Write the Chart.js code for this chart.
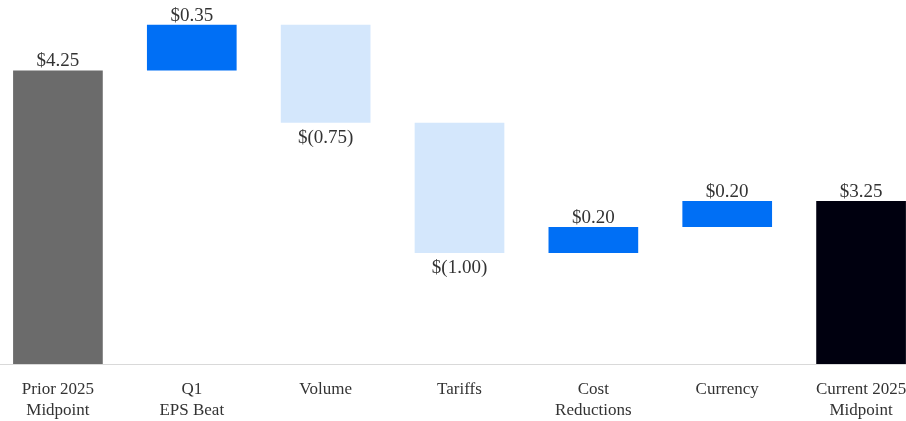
<!DOCTYPE html>
<html>
<head>
<meta charset="utf-8">
<script src="https://cdn.jsdelivr.net/npm/chart.js@4/dist/chart.umd.min.js"></script>
<style>
  html, body { margin: 0; padding: 0; background: #fff; overflow: hidden; }
  #wrap { position: relative; width: 906px; height: 421px; overflow: hidden; }
  #bridge { position: absolute; left: -9px; top: 0; }
</style>
</head>
<body>
<div id="wrap"><canvas id="bridge" width="937" height="421"></canvas></div>
<script>
// EPS bridge: prior guidance midpoint -> current guidance midpoint
const categories = [
  ['Prior 2025', 'Midpoint'],
  ['Q1', 'EPS Beat'],
  'Volume',
  'Tariffs',
  ['Cost', 'Reductions'],
  'Currency',
  ['Current 2025', 'Midpoint'],
];
const steps = [4.25, 0.35, -0.75, -1.00, 0.20, 0.20, 3.25];
const kinds = ['total', 'delta', 'delta', 'delta', 'delta', 'delta', 'total'];

const COLORS = {
  start: '#6b6b6b',
  up: '#006ff5',
  down: '#d4e7fc',
  end: '#00000f',
};

// build floating [low, high] ranges from the running total
let running = 0;
const ranges = steps.map((v, i) => {
  if (kinds[i] === 'total') {
    running = v;
    return [0, v];
  }
  const from = running;
  running += v;
  return [Math.min(from, running), Math.max(from, running)];
});

const barColors = steps.map((v, i) => {
  if (kinds[i] === 'total') return i === 0 ? COLORS.start : COLORS.end;
  return v >= 0 ? COLORS.up : COLORS.down;
});

function fmt(v) {
  return v < 0 ? '$(' + Math.abs(v).toFixed(2) + ')' : '$' + v.toFixed(2);
}

// value labels: above the bar for gains/totals, below it for losses
const valueLabels = {
  id: 'valueLabels',
  afterDatasetsDraw(chart) {
    const ctx = chart.ctx;
    const meta = chart.getDatasetMeta(0);
    ctx.save();
    ctx.font = '19px "Liberation Serif", "Times New Roman", serif';
    ctx.fillStyle = '#333';
    ctx.textAlign = 'center';
    ctx.textBaseline = 'alphabetic';
    meta.data.forEach((bar, i) => {
      const v = steps[i];
      const top = Math.min(bar.y, bar.base);
      const bottom = Math.max(bar.y, bar.base);
      if (v < 0) {
        ctx.fillText(fmt(v), bar.x, bottom + 20);
      } else {
        ctx.fillText(fmt(v), bar.x, top - 4);
      }
    });
    ctx.restore();
  },
};

new Chart(document.getElementById('bridge'), {
  type: 'bar',
  data: {
    labels: categories,
    datasets: [{
      data: ranges,
      backgroundColor: barColors,
      borderWidth: 0,
      barPercentage: 0.67,
      categoryPercentage: 1,
    }],
  },
  options: {
    responsive: false,
    animation: false,
    layout: { padding: 0 },
    plugins: {
      legend: { display: false },
      tooltip: { enabled: false },
    },
    scales: {
      x: {
        grid: { display: false, drawTicks: false },
        border: { display: true, color: '#d9d9d9', width: 1 },
        ticks: {
          color: '#333',
          padding: 16,
          maxRotation: 0,
          autoSkip: false,
          font: { family: '"Liberation Serif", "Times New Roman", serif', size: 17, lineHeight: 1.18 },
        },
        afterFit: s => { s.height = 57; },
      },
      y: {
        display: false,
        min: 2,
        max: 4.79,
      },
    },
  },
  plugins: [valueLabels],
});
</script>
</body>
</html>
